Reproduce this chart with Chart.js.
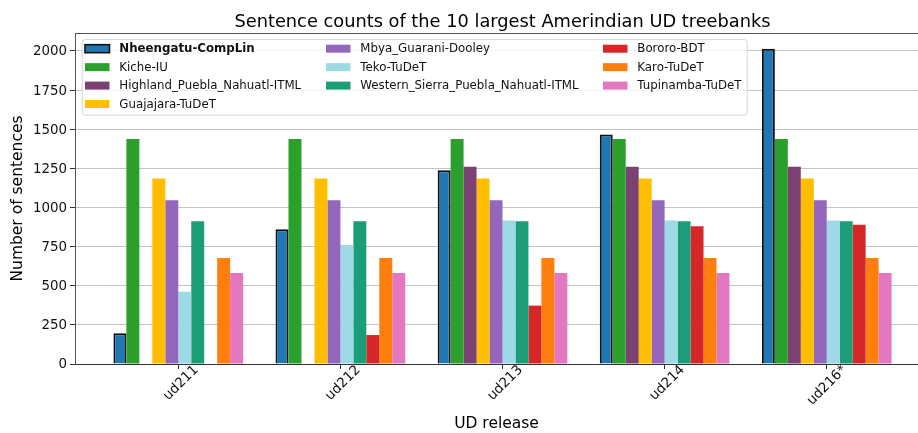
<!DOCTYPE html>
<html>
<head>
<meta charset="utf-8">
<script src="https://cdn.jsdelivr.net/npm/chart.js@4"></script>
<style>
  html, body { margin: 0; padding: 0; background: #fff; }
  #wrap { width: 918px; height: 433px; }
</style>
</head>
<body>
<div id="wrap"><canvas id="chart" width="918" height="433"></canvas></div>
<script>
// UD releases (x categories)
const releases = ['ud211', 'ud212', 'ud213', 'ud214', 'ud216*'];

// Sentence counts per treebank and release (null = not in that release)
const nheengatu = [196, 861, 1238, 1466, 2014];
const kiche     = [1438, 1438, 1438, 1438, 1438];
const highland  = [null, null, 1260, 1260, 1260];
const guajajara = [1185, 1185, 1185, 1185, 1185];
const mbya      = [1046, 1046, 1046, 1046, 1046];
const teko      = [462, 761, 916, 916, 916];
const western   = [912, 912, 912, 912, 912];
const bororo    = [null, 185, 373, 880, 889];
const karo      = [678, 678, 678, 678, 678];
const tupinamba = [582, 582, 582, 582, 582];

const treebanks = [
  'Nheengatu-CompLin', 'Kiche-IU', 'Highland_Puebla_Nahuatl-ITML', 'Guajajara-TuDeT',
  'Mbya_Guarani-Dooley', 'Teko-TuDeT', 'Western_Sierra_Puebla_Nahuatl-ITML',
  'Bororo-BDT', 'Karo-TuDeT', 'Tupinamba-TuDeT'
];
const series = [nheengatu, kiche, highland, guajajara, mbya, teko, western, bororo, karo, tupinamba];
const colors = ['#1f77b4', '#2ca02c', '#7b4173', '#ffbf00', '#9467bd',
                '#9edae5', '#1b9e77', '#d62728', '#ff7f0e', '#e377c2'];

const chartTitle = 'Sentence counts of the 10 largest Amerindian UD treebanks';

Chart.defaults.font.family = '"DejaVu Sans", sans-serif';
Chart.defaults.color = '#000';

const datasets = series.map((vals, k) => ({
  label: treebanks[k],
  data: vals.map((v, i) => ({ x: i, y: v })),
  backgroundColor: colors[k],
  borderColor: k === 0 ? '#111' : colors[k],
  borderWidth: k === 0 ? 2 : 0,
  categoryPercentage: 0.8,
  barPercentage: 1.0
}));

const allValues = series.flat().filter(v => v !== null);
const yMax = Math.max(...allValues) * 1.05;
// full horizontal extent of the axes (the canvas cuts off its right part)
const xLo = -0.64, xHi = 4.64;

// Title centred over the full axes extent
const axesTitle = {
  id: 'axesTitle',
  afterDraw(chart) {
    const ctx = chart.ctx, xs = chart.scales.x;
    const cx = (xs.getPixelForValue(xLo) + xs.getPixelForValue(xHi)) / 2;
    ctx.save();
    ctx.font = '17.8px "DejaVu Sans", sans-serif';
    ctx.fillStyle = '#000';
    ctx.textAlign = 'center';
    ctx.textBaseline = 'alphabetic';
    ctx.fillText(chartTitle, cx, 27);
    ctx.restore();
  }
};

// Three-column legend boxed inside the plot area
const boxLegend = {
  id: 'boxLegend',
  afterDraw(chart) {
    const ctx = chart.ctx;
    const ca = chart.chartArea;
    const bx = ca.left + 6.7, by = ca.top + 6;
    const bw = 665, bh = 75.7;
    ctx.save();
    ctx.beginPath();
    if (ctx.roundRect) ctx.roundRect(bx + 0.5, by + 0.5, bw, bh, 3); else ctx.rect(bx + 0.5, by + 0.5, bw, bh);
    ctx.fillStyle = 'rgba(255,255,255,0.8)';
    ctx.fill();
    ctx.strokeStyle = '#d6d6d6';
    ctx.lineWidth = 1;
    ctx.stroke();

    const cols = [[0, 1, 2, 3], [4, 5, 6], [7, 8, 9]];
    const colX = [3.3, 244.3, 521.3];
    const rowY0 = 9.7, rowStep = 18.45;
    const swW = 24.5, swH = 8;
    ctx.textBaseline = 'middle';
    ctx.textAlign = 'left';
    cols.forEach((items, c) => {
      items.forEach((k, r) => {
        const sx = bx + colX[c];
        const cy = by + rowY0 + r * rowStep;
        ctx.fillStyle = colors[k];
        ctx.fillRect(sx, cy - swH / 2, swW, swH);
        if (k === 0) {
          ctx.strokeStyle = '#111';
          ctx.lineWidth = 1.6;
          ctx.strokeRect(sx, cy - swH / 2, swW, swH);
        }
        ctx.fillStyle = '#111';
        ctx.font = (k === 0 ? 'bold ' : '') + '11.8px "DejaVu Sans", sans-serif';
        ctx.fillText(treebanks[k], sx + 34.3, cy + 0.5);
      });
    });
    ctx.restore();
  }
};

// Top frame line of the plot
const topFrame = {
  id: 'topFrame',
  afterDraw(chart) {
    const ctx = chart.ctx, ca = chart.chartArea;
    ctx.save();
    ctx.strokeStyle = '#555';
    ctx.lineWidth = 1.2;
    ctx.beginPath();
    ctx.moveTo(ca.left, ca.top + 0.5);
    ctx.lineTo(ca.right, ca.top + 0.5);
    ctx.stroke();
    ctx.restore();
  }
};

new Chart(document.getElementById('chart'), {
  type: 'bar',
  data: { datasets },
  plugins: [topFrame, boxLegend, axesTitle],
  options: {
    responsive: false,
    devicePixelRatio: 1,
    animation: false,
    layout: { padding: { top: 33, left: 0, right: 0, bottom: 0 } },
    plugins: {
      legend: { display: false },
      tooltip: { enabled: false },
      title: { display: false }
    },
    scales: {
      x: {
        type: 'linear',
        min: -0.637,
        max: 4.563,
        offset: false,
        afterBuildTicks(scale) {
          scale.ticks = releases.map((_, i) => ({ value: i }));
        },
        afterFit(scale) { scale.height = 69; },
        ticks: {
          autoSkip: false,
          minRotation: 45,
          maxRotation: 45,
          labelOffset: 18,
          padding: -7,
          font: { size: 13.6 },
          color: '#111',
          callback: (v) => releases[v] !== undefined ? releases[v] : ''
        },
        grid: { offset: false, drawOnChartArea: false, drawTicks: true, tickLength: 5, tickColor: '#333' },
        border: { display: true, color: '#333', width: 1 },
        title: {
          display: true,
          text: 'UD release',
          font: { size: 15.5 },
          color: '#000',
          padding: { top: 0, bottom: 0 }
        }
      },
      y: {
        min: 0,
        max: yMax,
        afterFit(scale) { scale.width = 75; },
        ticks: {
          stepSize: 250,
          includeBounds: false,
          padding: 3,
          labelOffset: 1,
          font: { size: 13.4 },
          color: '#111',
          callback: (v) => String(v)
        },
        grid: { color: 'rgba(176,176,176,0.75)', lineWidth: 1, tickLength: 5, tickColor: '#333' },
        border: { display: true, color: '#555', width: 1 },
        title: {
          display: true,
          text: 'Number of sentences',
          font: { size: 15.5 },
          color: '#000',
          padding: { top: 9, bottom: 0 }
        }
      }
    }
  }
});
</script>
</body>
</html>
